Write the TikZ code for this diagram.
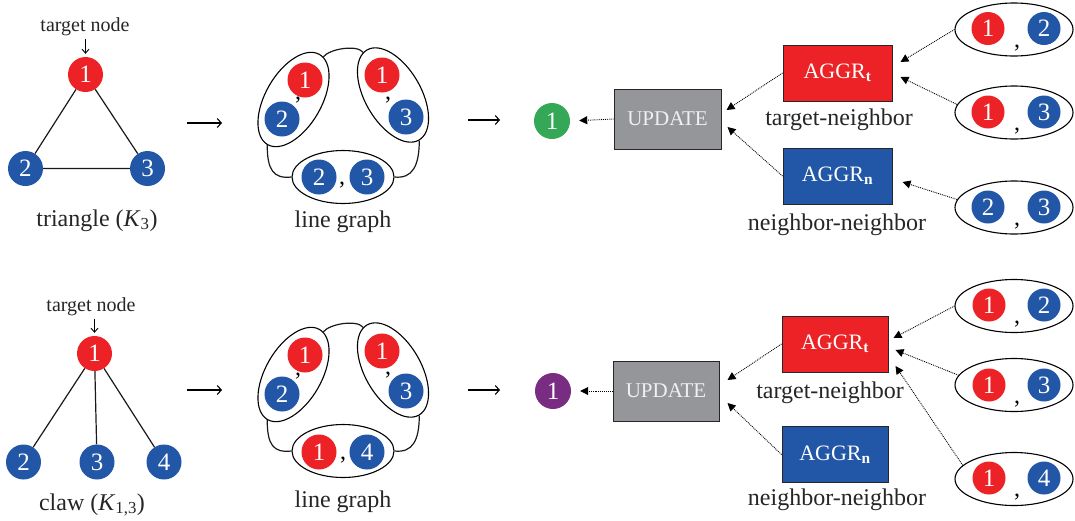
\documentclass[tikz,border=0pt]{standalone}
\usepackage{fontspec}
\setmainfont{Liberation Serif}
\usetikzlibrary{arrows.meta,shapes.geometric,calc}
\definecolor{nred}{RGB}{237,34,38}
\definecolor{nblue}{RGB}{34,86,166}
\definecolor{ngreen}{RGB}{52,168,86}
\definecolor{npurple}{RGB}{120,44,130}
\definecolor{ngray}{RGB}{148,150,153}
\newcommand{\fsz}[1]{\fontsize{#1}{#1}\selectfont}
\begin{document}
\begin{tikzpicture}[x=1pt,y=-1pt,
  nd/.style={circle,inner sep=0pt,minimum size=35pt,text=white,font=\fsz{25}},
  rn/.style={nd,fill=nred}, bn/.style={nd,fill=nblue},
  sr/.style={rn,minimum size=33pt}, sb/.style={bn,minimum size=33pt},
  commanode/.style={inner sep=0pt,font=\fsz{24}},
  edge/.style={line width=1.2pt,black!90},
  lgell/.style={draw,ellipse,line width=1.1pt,inner sep=0pt},
  ellA/.style={lgell,minimum width=104pt,minimum height=56pt},
  ellC/.style={lgell,minimum width=102pt,minimum height=53pt},
  ellR/.style={lgell,minimum width=118pt,minimum height=53pt},
  lbl/.style={font=\fsz{24},anchor=base,text=black!85},
  tnl/.style={font=\fsz{20},anchor=base,text=black!85},
  tgt/.style={line width=0.9pt,-{Straight Barb[length=4pt,width=7pt]}},
  longarr/.style={line width=1.1pt,-{Straight Barb[length=4pt,width=9pt]}},
  dotarr/.style={densely dotted,line width=0.9pt,-{Triangle[length=8pt,width=8pt]}},
  boxb/.style={draw=black!85,line width=1pt,inner sep=0pt},
  upd/.style={boxb,fill=ngray,text=white!94!black,font=\fsz{21},minimum width=107pt,minimum height=60pt},
  aggr/.style={boxb,text=white,font=\fsz{22},minimum width=109pt,minimum height=56pt}
]
\useasboundingbox (0,0) rectangle (1075,520);

% ---------- top row: triangle ----------
\node[tnl] (tn1) at (85,31) {target node};
\node[rn] (a1) at (85.5,74.5) {1};
\node[bn] (a2) at (25.5,168.5) {2};
\node[bn] (a3) at (147.5,168.5) {3};
\draw[edge] (a1) -- (a2) (a1) -- (a3) (a2) -- (a3);
\draw[tgt,shorten >=3pt] (a1.north |- tn1.south) -- (a1.north);
\node[lbl] (cap1) at (97,226) {triangle (\textit{K}\textsubscript{3})};
\coordinate (r1s) at (187,123); \coordinate (r1e) at (222,123);
\draw[longarr] (r1s) -- (r1e);

% line graph top
\node[ellA,rotate=60] (LA) at (293.5,99.5) {};
\node[ellA,rotate=-60] (LB) at (393,95) {};
\node[ellC] (LC) at (343,177) {};
\node[rn] (la1) at (305,80) {1};
\node[bn] (la2) at (282,119) {2};
\node[commanode] (lac) at (298,100) {,};
\node[rn] (lb1) at (382,75) {1};
\node[bn] (lb3) at (406,117) {3};
\node[commanode] (lbc) at (388,100) {,};
\node[bn] (lc2) at (319,177) {2};
\node[bn] (lc3) at (367,177) {3};
\node[commanode] (lcc) at (342,185) {,};
\draw[edge] (LA.-5) .. controls +(6,-8) and +(-6,-8) .. (LB.185);
\draw[edge] (LA.west) .. controls +(0,25) and +(-18,2) .. (LC.west);
\draw[edge] (LB.east) .. controls +(0,25) and +(18,2) .. (LC.east);
\node[lbl] (cap2) at (343,227) {line graph};
\coordinate (r2s) at (468,120); \coordinate (r2e) at (500,120);
\draw[longarr] (r2s) -- (r2e);

% update / aggr top
\node[nd,fill=ngreen,minimum size=36pt] (g1) at (552,121) {1};
\node[upd] (U1) at (667.5,119) {UPDATE};
\node[aggr,fill=nred] (T1) at (837.5,73) {AGGR\textsubscript{\textbf{t}}};
\node[aggr,fill=nblue] (N1) at (837.5,176) {AGGR\textsubscript{\textbf{n}}};
\node[lbl] (tl1) at (839,125) {target-neighbor};
\node[lbl] (nl1) at (837,230) {neighbor-neighbor};
\node[ellR] (E1) at (1014,29.5) {};
\node[ellR] (E2) at (1014,112.5) {};
\node[ellR] (E3) at (1014,207.5) {};
\node[sr] (e11) at (988,28.5) {1}; \node[sb] (e12) at (1044,28.5) {2};
\node[commanode] (e1c) at (1017,48) {,};
\node[sr] (e21) at (988,112) {1}; \node[sb] (e23) at (1044,112) {3};
\node[commanode] (e2c) at (1017,131) {,};
\node[sb] (e32) at (988,207) {2}; \node[sb] (e33) at (1044,207) {3};
\node[commanode] (e3c) at (1017,226) {,};
\draw[dotarr,shorten >=9pt] (U1.west) -- (g1.east);
\draw[dotarr] (T1.west) -- ($(U1.east)+(5,-9)$);
\draw[dotarr] (N1.west) -- ($(U1.east)+(6,8)$);
\draw[dotarr] (E1.west) -- ($(T1.east)+(8,-11)$);
\draw[dotarr] (E2.172) -- ($(T1.east)+(8,4)$);
\draw[dotarr] (E3.172) -- ($(N1.east)+(10,6)$);

% ---------- bottom row: claw ----------
\node[tnl] (tn2) at (91,311) {target node};
\node[rn] (b1) at (94.5,353.5) {1};
\node[bn] (b2) at (23.5,462) {2};
\node[bn] (b3) at (97,462) {3};
\node[bn] (b4) at (164,462) {4};
\draw[edge] (b1) -- (b2) (b1) -- (b3) (b1) -- (b4);
\draw[tgt,shorten >=3pt] (b1.north |- tn2.south) -- (b1.north);
\node[lbl] (cap3) at (92,510) {claw (\textit{K}\textsubscript{1,3})};
\coordinate (r3s) at (187,390); \coordinate (r3e) at (222,390);
\draw[longarr] (r3s) -- (r3e);

% line graph bottom
\node[ellA,rotate=60] (MA) at (293.5,374.5) {};
\node[ellA,rotate=-60] (MB) at (393,370) {};
\node[ellC] (MC) at (343,451) {};
\node[rn] (ma1) at (305,355) {1};
\node[bn] (ma2) at (282,394) {2};
\node[commanode] (mac) at (298,376) {,};
\node[rn] (mb1) at (382,351) {1};
\node[bn] (mb3) at (406,391) {3};
\node[commanode] (mbc) at (388,375) {,};
\node[rn] (mc1) at (319,452) {1};
\node[bn] (mc4) at (367,452) {4};
\node[commanode] (mcc) at (343,460) {,};
\draw[edge] (MA.-5) .. controls +(6,-8) and +(-6,-8) .. (MB.185);
\draw[edge] (MA.west) .. controls +(0,25) and +(-18,2) .. (MC.west);
\draw[edge] (MB.east) .. controls +(0,25) and +(18,2) .. (MC.east);
\node[lbl] (cap4) at (343,507) {line graph};
\coordinate (r4s) at (468,390); \coordinate (r4e) at (500,390);
\draw[longarr] (r4s) -- (r4e);

% update / aggr bottom
\node[nd,fill=npurple,minimum size=36pt] (p1) at (553,391) {1};
\node[upd,minimum width=106pt] (U2) at (666,391) {UPDATE};
\node[aggr,fill=nred,minimum width=106pt] (T2) at (835,344) {AGGR\textsubscript{\textbf{t}}};
\node[aggr,fill=nblue,minimum width=106pt] (N2) at (835,454.5) {AGGR\textsubscript{\textbf{n}}};
\node[lbl] (tl2) at (830,398) {target-neighbor};
\node[lbl] (nl2) at (837,505) {neighbor-neighbor};
\node[ellR] (F1) at (1014,306) {};
\node[ellR] (F2) at (1014,385) {};
\node[ellR] (F3) at (1014,479) {};
\node[sr] (f11) at (989,305) {1}; \node[sb] (f12) at (1044,305) {2};
\node[commanode] (f1c) at (1017,324) {,};
\node[sr] (f21) at (989,385) {1}; \node[sb] (f23) at (1044,385) {3};
\node[commanode] (f2c) at (1017,404) {,};
\node[sr] (f31) at (989,478) {1}; \node[sb] (f34) at (1044,478) {4};
\node[commanode] (f3c) at (1017,497) {,};
\draw[dotarr,shorten >=9pt] (U2.west) -- (p1.east);
\draw[dotarr] (T2.west) -- ($(U2.east)+(8,-11)$);
\draw[dotarr] (N2.west) -- ($(U2.east)+(8,12)$);
\draw[dotarr] (F1.west) -- ($(T2.east)+(5,-6)$);
\draw[dotarr] (F2.170) -- ($(T2.east)+(7,6)$);
\draw[dotarr] (F3.165) -- ($(T2.east)+(7,22)$);
\end{tikzpicture}
\end{document}
